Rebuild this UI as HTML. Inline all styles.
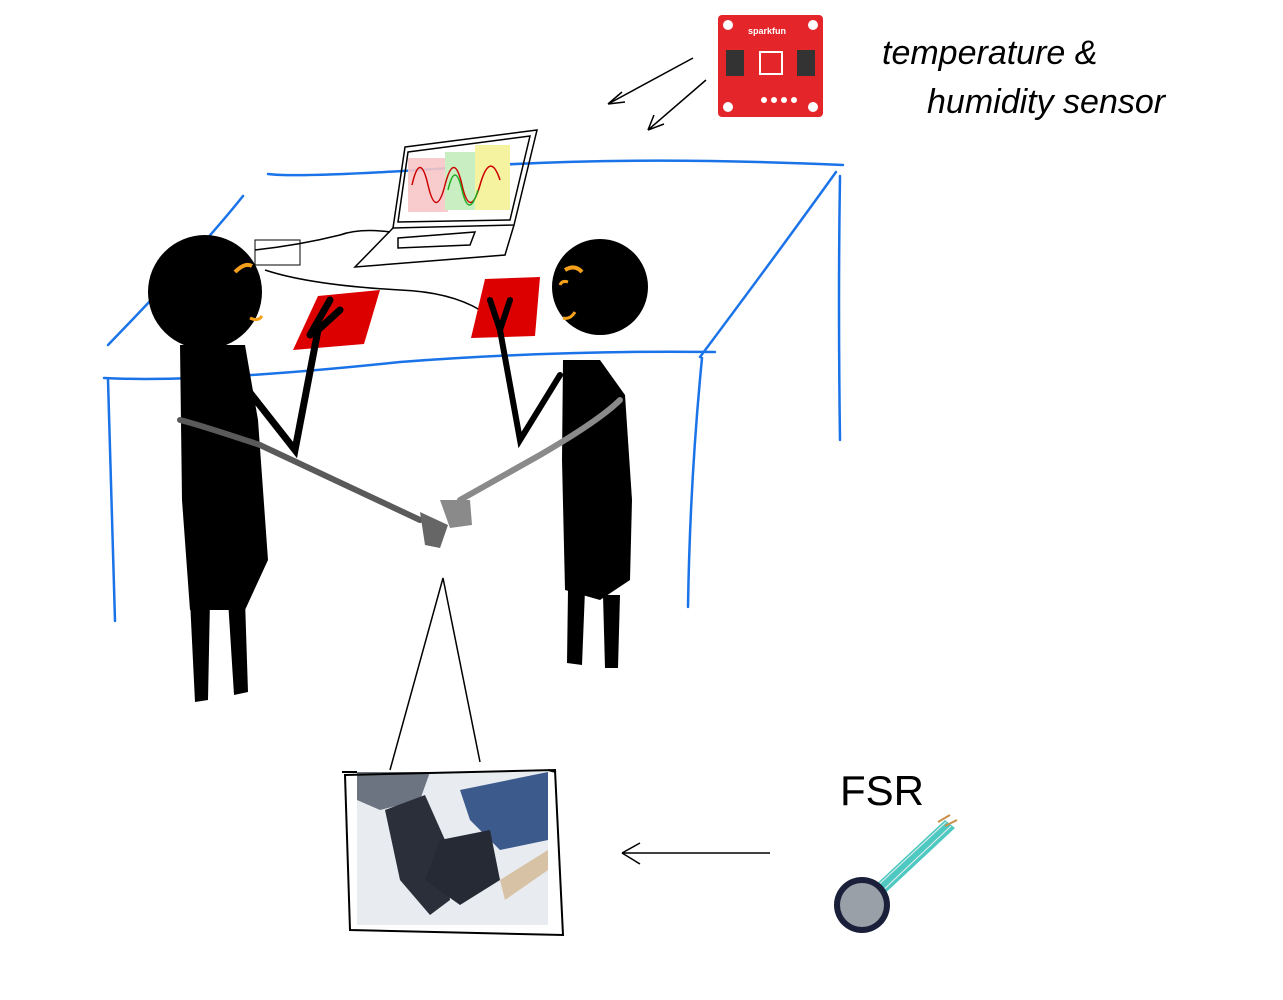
<!DOCTYPE html>
<html><head><meta charset="utf-8"><style>
html,body{margin:0;padding:0;background:#fff;}
svg{display:block;}
text{font-family:"Liberation Sans",sans-serif;}
</style></head><body>
<svg width="1283" height="1000" viewBox="0 0 1283 1000" xmlns="http://www.w3.org/2000/svg">
<rect width="1283" height="1000" fill="#fff"/>
<!-- table -->
<g stroke="#1a73e8" stroke-width="2.5" fill="none" stroke-linecap="round">
<path d="M268 174 Q300 178 450 168 Q620 155 843 165"/>
<path d="M243 196 Q200 250 108 345"/>
<path d="M104 378 Q200 383 400 362 Q560 350 715 352"/>
<path d="M836 172 Q780 250 700 357"/>
<path d="M108 380 Q112 500 115 621"/>
<path d="M702 358 Q690 480 688 607"/>
<path d="M840 176 Q838 300 840 440"/>
</g>
<!-- laptop -->
<g stroke="#000" stroke-width="1.5" fill="none">
<path d="M405 147 L537 130 L514 225 L393 228 Z"/>
<path d="M408 152 L530 136 L510 220 L398 222 Z"/>
<path d="M393 228 L355 267 L505 255 L514 225"/>
<path d="M398 238 L475 232 L470 245 L398 248 Z"/>
<path d="M255 250 Q300 245 340 235 Q360 228 390 232"/>
<path d="M265 270 Q310 285 400 290 Q450 292 480 310"/>
</g>
<rect x="408" y="158" width="40" height="54" fill="#f7c6c6" opacity="0.9"/>
<rect x="445" y="152" width="32" height="58" fill="#c9eec2"/>
<rect x="475" y="145" width="35" height="65" fill="#f6f3a0"/>
<path d="M412 185 Q420 150 428 185 T445 185 T462 185 T480 185 T500 180" stroke="#c00" stroke-width="1.5" fill="none"/>
<path d="M448 190 Q455 160 462 190 T478 190" stroke="#2a2" stroke-width="1.5" fill="none"/>
<!-- small board near left head -->
<rect x="255" y="240" width="45" height="25" fill="none" stroke="#000" stroke-width="1"/>
<!-- sensor -->
<rect x="718" y="15" width="105" height="102" rx="4" fill="#e4262b"/>
<circle cx="728" cy="25" r="5" fill="#fff"/><circle cx="813" cy="25" r="5" fill="#fff"/>
<circle cx="728" cy="107" r="5" fill="#fff"/><circle cx="813" cy="107" r="5" fill="#fff"/>
<rect x="726" y="50" width="18" height="26" fill="#333"/><rect x="797" y="50" width="18" height="26" fill="#333"/>
<rect x="760" y="52" width="22" height="22" fill="none" stroke="#fff" stroke-width="2"/>
<text x="748" y="34" font-size="9" fill="#fff" font-weight="bold">sparkfun</text>
<g fill="#fff"><circle cx="764" cy="100" r="3"/><circle cx="774" cy="100" r="3"/><circle cx="784" cy="100" r="3"/><circle cx="794" cy="100" r="3"/></g>
<!-- arrows from sensor -->
<g stroke="#000" stroke-width="1.5" fill="none">
<path d="M693 58 L608 104 M608 104 L622 92 M608 104 L625 102"/>
<path d="M706 80 L648 130 M648 130 L654 115 M648 130 L664 124"/>
</g>
<text x="882" y="64" font-size="34" font-style="italic" fill="#000">temperature &amp;</text>
<text x="927" y="113" font-size="34" font-style="italic" fill="#000">humidity sensor</text>
<!-- pads -->
<path d="M318 296 L380 290 L364 344 L293 350 Z" fill="#d00"/>
<path d="M485 279 L540 277 L535 336 L471 338 Z" fill="#d00"/>
<!-- left person -->
<g fill="#000">
<circle cx="205" cy="292" r="57"/>
<path d="M180 345 L245 345 L258 420 L268 560 L245 610 L190 610 L182 500 Z"/>
<path d="M190 600 L210 600 L208 700 L195 702 Z"/>
<path d="M228 600 L245 600 L248 692 L234 695 Z"/>
</g>
<g stroke="#000" stroke-width="7" fill="none" stroke-linecap="round">
<path d="M240 380 L295 450 L318 330"/>
<path d="M310 335 L330 300 M318 330 L340 310"/>
</g>
<path d="M235 272 Q245 262 252 266" stroke="#f5a01a" stroke-width="4" fill="none"/>
<path d="M250 318 Q258 322 262 316" stroke="#f5a01a" stroke-width="3" fill="none"/>
<!-- right person -->
<g fill="#000">
<circle cx="600" cy="287" r="48"/>
<path d="M563 360 L600 360 L625 395 L632 500 L630 580 L600 600 L565 590 L562 460 Z"/>
<path d="M568 590 L585 590 L582 665 L567 663 Z"/>
<path d="M603 595 L620 595 L618 668 L605 668 Z"/>
</g>
<g stroke="#000" stroke-width="6" fill="none" stroke-linecap="round">
<path d="M560 375 L520 440 L500 330 L490 300"/>
<path d="M500 330 L510 300"/>
</g>
<path d="M565 270 Q575 264 582 272" stroke="#f5a01a" stroke-width="4" fill="none"/>
<path d="M560 285 Q562 280 568 282" stroke="#f5a01a" stroke-width="3" fill="none"/>
<path d="M563 318 Q570 320 575 312" stroke="#f5a01a" stroke-width="3" fill="none"/>
<!-- grey arms -->
<path d="M180 420 Q200 425 260 445 L420 520" stroke="#5a5a5a" stroke-width="6" fill="none" stroke-linecap="round"/>
<path d="M620 400 Q600 420 540 455 L460 500" stroke="#8a8a8a" stroke-width="6" fill="none" stroke-linecap="round"/>
<path d="M420 512 L448 525 L440 548 L425 545 Z" fill="#666"/>
<path d="M440 500 L470 500 L472 525 L450 528 Z" fill="#8a8a8a"/>
<!-- callout -->
<path d="M390 770 L443 578 L480 762" stroke="#000" stroke-width="1.5" fill="none"/>
<!-- photo -->
<rect x="357" y="772" width="191" height="153" fill="#e8ebf0"/>
<path d="M357 772 L430 772 L420 800 L380 810 L357 800 Z" fill="#6b7480"/>
<path d="M460 790 L548 772 L548 840 L500 850 L470 820 Z" fill="#3d5a8c"/>
<path d="M385 810 L425 795 L445 840 L450 900 L430 915 L400 880 Z" fill="#2b2f3a"/>
<path d="M440 840 L490 830 L500 880 L460 905 L425 880 Z" fill="#262a35"/>
<path d="M500 880 L548 850 L548 870 L505 900 Z" fill="#c89a5a" opacity="0.5"/>
<path d="M345 775 L555 770 L563 935 L350 930 Z" stroke="#000" stroke-width="2" fill="none"/>
<path d="M342 772 L357 772 M548 770 L556 772" stroke="#000" stroke-width="2"/>
<!-- FSR arrow -->
<g stroke="#000" stroke-width="1.5" fill="none">
<path d="M770 853 L622 853 M622 853 L640 843 M622 853 L640 864"/>
</g>
<text x="840" y="805" font-size="42" fill="#000">FSR</text>
<!-- FSR sensor -->
<path d="M870 890 L945 820 L955 828 L880 898 Z" fill="#4ec9c2"/>
<path d="M873 890 L946 822 M878 895 L951 826" stroke="#eee" stroke-width="1"/>
<path d="M938 822 L950 815 M945 826 L957 820" stroke="#c8904a" stroke-width="2"/>
<circle cx="862" cy="905" r="28" fill="#1a1f3a"/>
<circle cx="862" cy="905" r="22" fill="#9aa0a8"/>
</svg>
</body></html>
